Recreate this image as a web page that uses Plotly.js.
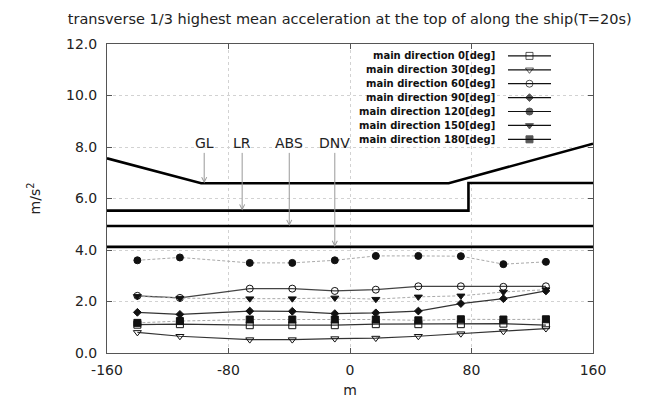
<!DOCTYPE html>
<html>
<head>
<meta charset="utf-8">
<script src="https://cdn.plot.ly/plotly-3.0.1.min.js"></script>
<style>html,body{margin:0;padding:0;background:#fff;}#chart{width:650px;height:399px;}</style>
</head>
<body>
<div id="chart"></div>
<script>
// ---- data ----
const positions = [-140, -112, -66, -38, -10, 17, 45, 73, 101, 129];
const dir0   = [1.10, 1.12, 1.08, 1.08, 1.08, 1.12, 1.12, 1.12, 1.14, 1.08];
const dir30  = [0.80, 0.65, 0.52, 0.52, 0.56, 0.58, 0.65, 0.75, 0.84, 0.95];
const dir60  = [2.22, 2.14, 2.50, 2.50, 2.41, 2.46, 2.59, 2.59, 2.57, 2.59];
const dir90  = [1.58, 1.50, 1.63, 1.62, 1.53, 1.56, 1.63, 1.92, 2.11, 2.41];
const dir120 = [3.60, 3.71, 3.50, 3.50, 3.60, 3.77, 3.77, 3.76, 3.45, 3.54];
const dir150 = [2.20, 2.13, 2.11, 2.11, 2.14, 2.09, 2.18, 2.22, 2.37, 2.46];
const dir180 = [1.17, 1.24, 1.30, 1.30, 1.30, 1.30, 1.27, 1.31, 1.30, 1.31];
const seriesNames = ['main direction 0[deg]','main direction 30[deg]','main direction 60[deg]',
  'main direction 90[deg]','main direction 120[deg]','main direction 150[deg]','main direction 180[deg]'];

// rule curves
const glX  = [-160, -98, 65, 160];
const glY  = [7.56, 6.59, 6.59, 8.13];
const lrX  = [-160, 78, 78, 160];
const lrY  = [5.53, 5.53, 6.60, 6.60];
const absX = [-160, 160];
const absY = [4.93, 4.93];
const dnvX = [-160, 160];
const dnvY = [4.12, 4.12];
const ruleLabels  = ['GL', 'LR', 'ABS', 'DNV'];
const ruleLabelX  = [-96, -71, -40, -10];
const ruleTargetY = [6.59, 5.53, 4.93, 4.12];
const ruleLabelY  = 8.14;

const xTickVals = [-160, -80, 0, 80, 160];
const xTickText = ['-160', '-80', '0', '80', '160'];
const yTickVals = [0, 2, 4, 6, 8, 10, 12];
const yTickText = ['0.0', '2.0', '4.0', '6.0', '8.0', '10.0', '12.0'];

const titleText = 'transverse 1/3 highest mean acceleration at the top of along the ship(T=20s)';

// ---- styles ----
const FONT = 'DejaVu Sans';
const seriesData = [dir0, dir30, dir60, dir90, dir120, dir150, dir180];
const styles = [
  {sym:'square-open',        size:7, line:{color:'#333', width:1.2}},
  {sym:'triangle-down-open', size:7, line:{color:'#333', width:1.2}},
  {sym:'circle-open',        size:7, line:{color:'#444', width:1.2}},
  {sym:'diamond',            size:6, line:{color:'#333', width:1.2}},
  {sym:'circle',             size:7, line:{color:'#aaa', width:1, dash:'3px,2px'}},
  {sym:'triangle-down',      size:7, line:{color:'#aaa', width:1, dash:'3px,2px'}},
  {sym:'square',             size:7, line:{color:'#aaa', width:1, dash:'3px,2px'}}
];

const traces = [];
[[glX,glY],[lrX,lrY],[absX,absY],[dnvX,dnvY]].forEach(function(r){
  traces.push({x:r[0], y:r[1], mode:'lines', line:{color:'#000', width:2.6}, showlegend:false, hoverinfo:'skip'});
});
seriesData.forEach(function(d, i){
  const s = styles[i];
  traces.push({x:positions, y:d, mode:'lines+markers', name:seriesNames[i], showlegend:false,
    line:s.line, marker:{symbol:s.sym, size:s.size, color:'#111', line:{color:'#111', width:1}}});
});
// manual gnuplot-style key (text on the left, sample on the right)
const annotations = [];
seriesNames.forEach(function(n, i){
  const s = styles[i];
  traces.push({x:[0, 0.5, 1], y:[i, i, i], xaxis:'x2', yaxis:'y2', mode:'lines+markers', showlegend:false,
    hoverinfo:'skip', line:{color:'#111', width:1.2},
    marker:{symbol:s.sym, size:[0, s.size, 0], color:'#111', line:{color:'#111', width:1}}});
  annotations.push({xref:'paper', x:0.802, xanchor:'right', yref:'y2', y:i, yanchor:'middle',
    text:n, showarrow:false, font:{family:FONT, size:10, color:'#111', weight:'bold'}});
});
ruleLabels.forEach(function(t, i){
  annotations.push({xref:'x', yref:'y', x:ruleLabelX[i], y:ruleTargetY[i], axref:'x', ayref:'y',
    ax:ruleLabelX[i], ay:ruleLabelY, text:t, showarrow:true, arrowhead:5, arrowsize:1, arrowwidth:1,
    arrowcolor:'#999', font:{family:FONT, size:14, color:'#222'}});
});

const axisCommon = {
  showline:true, linecolor:'#555', linewidth:1, mirror:'ticks', ticks:'inside', ticklen:5,
  tickcolor:'#555', showgrid:true, gridcolor:'#d2d2d2', griddash:'dot', gridwidth:1, zeroline:false,
  tickfont:{family:FONT, size:14, color:'#222'}, tickmode:'array'
};

const layout = {
  width:650, height:399,
  margin:{l:107, r:57, t:44, b:46},
  paper_bgcolor:'#fff', plot_bgcolor:'rgba(0,0,0,0)',
  font:{family:FONT, color:'#222'},
  title:{text:titleText, x:0.538, xanchor:'center', xref:'container', y:0.952, yanchor:'middle', yref:'container',
    font:{family:FONT, size:14.5, color:'#222'}},
  xaxis:Object.assign({}, axisCommon, {range:[-160,160], tickvals:xTickVals, ticktext:xTickText,
    ticklabelstandoff:4,
    title:{text:'m', font:{family:FONT, size:14, color:'#222'}, standoff:8}}),
  yaxis:Object.assign({}, axisCommon, {range:[0,12], tickvals:yTickVals, ticktext:yTickText,
    ticklabelstandoff:6,
    title:{text:'m/s<sup>2</sup>', font:{family:FONT, size:14, color:'#222'}, standoff:22}}),
  xaxis2:{domain:[0.825, 0.9136], range:[0,1], visible:false, anchor:'y2', fixedrange:true},
  yaxis2:{domain:[0.669, 0.984], range:[6.5,-0.5], visible:false, anchor:'x2', fixedrange:true},
  annotations:annotations,
  showlegend:false
};

Plotly.newPlot('chart', traces, layout, {staticPlot:true, displayModeBar:false});
</script>
</body>
</html>
